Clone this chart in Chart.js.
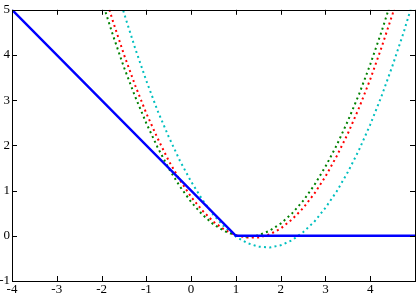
<!DOCTYPE html>
<html>
<head>
<meta charset="utf-8">
<script src="https://cdn.jsdelivr.net/npm/chart.js@4.4.1/dist/chart.umd.min.js"></script>
<style>
  html, body { margin: 0; padding: 0; background: #fff; }
  #wrap { width: 416px; height: 294px; }
</style>
</head>
<body>
<div id="wrap"><canvas id="chart"></canvas></div>
<script>
// values
const xTicks = [-4, -3, -2, -1, 0, 1, 2, 3, 4, 5];
const yTicks = [-1, 0, 1, 2, 3, 4, 5];

const hingeX = [-4, 1, 5];
const hingeY = [5, 0, 0];

const greenX = [-2.25, -2, -1.75, -1.5, -1.25, -1, -0.75, -0.5, -0.25, 0, 0.25, 0.5, 0.75, 1, 1.25, 1.5, 1.75, 2, 2.25, 2.5, 2.75, 3, 3.25, 3.5, 3.75, 4, 4.25, 4.5];
const greenY = [6.07, 5.23, 4.45, 3.73, 3.08, 2.49, 1.96, 1.49, 1.09, 0.75, 0.47, 0.25, 0.10, 0.01, -0.02, 0.01, 0.11, 0.27, 0.49, 0.77, 1.12, 1.53, 2.00, 2.54, 3.13, 3.79, 4.51, 5.29];

const redX = [-2, -1.75, -1.5, -1.25, -1, -0.75, -0.5, -0.25, 0, 0.25, 0.5, 0.75, 1, 1.25, 1.5, 1.75, 2, 2.25, 2.5, 2.75, 3, 3.25, 3.5, 3.75, 4, 4.25, 4.5, 4.75];
const redY = [5.56, 4.76, 4.01, 3.33, 2.71, 2.16, 1.66, 1.23, 0.86, 0.56, 0.31, 0.13, 0.01, -0.04, -0.04, 0.03, 0.16, 0.36, 0.61, 0.93, 1.31, 1.76, 2.26, 2.83, 3.46, 4.16, 4.91, 5.73];

const cyanX = [-1.75, -1.5, -1.25, -1, -0.75, -0.5, -0.25, 0, 0.25, 0.5, 0.75, 1, 1.25, 1.5, 1.75, 2, 2.25, 2.5, 2.75, 3, 3.25, 3.5, 3.75, 4, 4.25, 4.5, 4.75, 5];
const cyanY = [5.77, 4.93, 4.15, 3.43, 2.77, 2.19, 1.66, 1.20, 0.80, 0.46, 0.19, -0.02, -0.16, -0.24, -0.26, -0.21, -0.10, 0.08, 0.31, 0.62, 0.98, 1.41, 1.90, 2.46, 3.08, 3.77, 4.51, 5.33];

function pts(xs, ys) {
  return xs.map((x, i) => ({ x: x, y: ys[i] }));
}

function dotted(label, xs, ys, color) {
  return {
    label: label,
    data: pts(xs, ys),
    borderColor: color,
    borderWidth: 2,
    borderDash: [2, 3.3],
    pointRadius: 0,
    showLine: true,
    tension: 0,
    fill: false
  };
}

// box + inward ticks on all four sides, like the old matplotlib look
const frame = {
  id: 'frame',
  afterDraw(chart) {
    const { ctx, chartArea: a, scales } = chart;
    ctx.save();
    ctx.strokeStyle = '#000';
    ctx.lineWidth = 1;
    const len = 5;
    ctx.beginPath();
    xTicks.forEach(v => {
      const px = Math.round(scales.x.getPixelForValue(v)) + 0.5;
      ctx.moveTo(px, a.bottom); ctx.lineTo(px, a.bottom - len);
      ctx.moveTo(px, a.top); ctx.lineTo(px, a.top + len);
    });
    yTicks.forEach(v => {
      const py = Math.round(scales.y.getPixelForValue(v)) + 0.5;
      ctx.moveTo(a.left, py); ctx.lineTo(a.left + len, py);
      ctx.moveTo(a.right, py); ctx.lineTo(a.right - len, py);
    });
    ctx.stroke();
    ctx.strokeRect(Math.round(a.left) + 0.5, Math.round(a.top) + 0.5,
      Math.round(a.right - a.left), Math.round(a.bottom - a.top));
    ctx.restore();
  }
};

new Chart(document.getElementById('chart'), {
  type: 'scatter',
  data: {
    datasets: [
      {
        label: 'hinge',
        data: pts(hingeX, hingeY),
        borderColor: '#0000ff',
        borderWidth: 2.5,
        pointRadius: 0,
        showLine: true,
        tension: 0,
        fill: false
      },
      dotted('green', greenX, greenY, '#008000'),
      dotted('red', redX, redY, '#ff0000'),
      dotted('cyan', cyanX, cyanY, '#00bfbf')
    ]
  },
  options: {
    responsive: true,
    maintainAspectRatio: false,
    animation: false,
    layout: { padding: { top: 5, right: 1, left: 0, bottom: 0 } },
    plugins: {
      legend: { display: false },
      tooltip: { enabled: false }
    },
    scales: {
      x: {
        type: 'linear',
        min: -4,
        max: 5,
        afterFit: s => { s.height = 13; },
        afterBuildTicks: s => { s.ticks = xTicks.map(v => ({ value: v })); },
        grid: { display: false, drawTicks: false },
        border: { display: false },
        ticks: {
          padding: 1,
          color: '#000',
          maxRotation: 0,
          autoSkip: false,
          font: { family: 'Liberation Serif', size: 13 },
          callback: v => (v === 5 ? '' : String(v))
        }
      },
      y: {
        type: 'linear',
        min: -1,
        max: 5,
        afterFit: s => { s.width = 12; },
        afterBuildTicks: s => { s.ticks = yTicks.map(v => ({ value: v })); },
        grid: { display: false, drawTicks: false },
        border: { display: false },
        ticks: {
          padding: 2,
          color: '#000',
          autoSkip: false,
          font: { family: 'Liberation Serif', size: 13 },
          callback: v => String(v)
        }
      }
    }
  },
  plugins: [frame]
});
</script>
</body>
</html>
